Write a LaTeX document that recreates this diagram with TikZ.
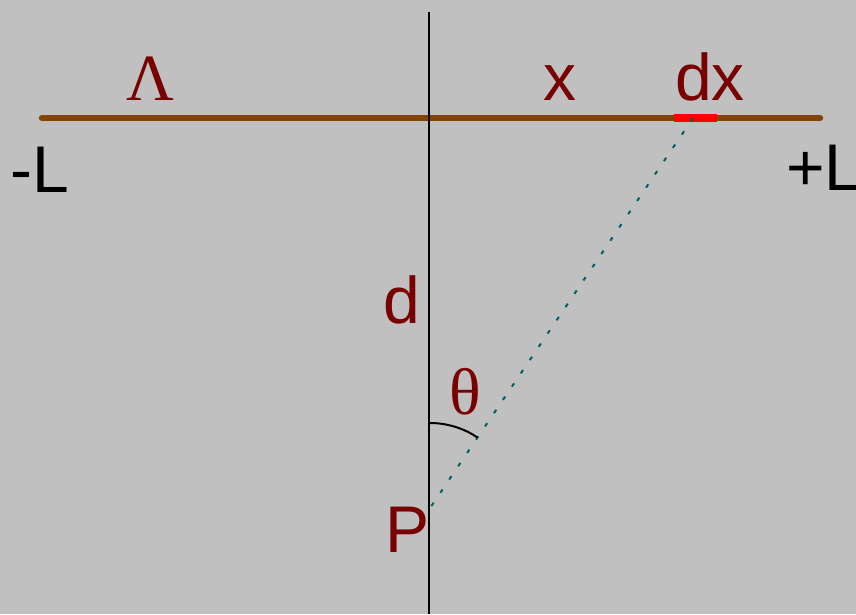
\documentclass[tikz,border=0pt]{standalone}
\usepackage{fontspec}
\usetikzlibrary{calc}
\setmainfont{Liberation Sans}
\newfontfamily\serifface{Liberation Serif}
\definecolor{bggray}{RGB}{192,192,192}
\definecolor{rodbrown}{RGB}{132,68,0}
\definecolor{lblred}{RGB}{120,0,0}
\definecolor{teal2}{RGB}{0,96,96}
\begin{document}
\begin{tikzpicture}[x=1pt,y=-1pt,
  lbl/.style={anchor=base,inner sep=0pt,text=lblred,font=\fontsize{66}{66}\selectfont},
  lblk/.style={anchor=base,inner sep=0pt,text=black,font=\fontsize{66}{66}\selectfont},
  glbl/.style={anchor=base,inner sep=0pt,text=lblred,font=\serifface\fontsize{66}{66}\selectfont}]
\fill[bggray] (0,0) rectangle (856,614);
\useasboundingbox (0,0) rectangle (856,614);
\coordinate (top) at (429,12);
\coordinate (bot) at (429,614);
\coordinate (rl) at (42,118);
\coordinate (rr) at (820,118);
\coordinate (dxl) at (674,118);
\coordinate (dxr) at (717,118);
\coordinate (Q) at (693,118);
\coordinate (P) at (430,508);
\draw[line width=6.5,rodbrown,line cap=round] (rl) -- (rr);
\draw[line width=8,red] (dxl) -- (dxr);
\draw[line width=2.4,black] (top) -- (bot);
\draw[teal2,line width=2,dash pattern=on 4 off 12] (Q) -- (P);
\draw[black,line width=2] ($(P)+(-90:85)$) arc[start angle=-90,end angle=-56,radius=85];
\node[glbl] (lam) at (150,100) {Λ};
\node[lbl] (xl) at (560,100) {x};
\node[lbl] (dxlab) at (710,100) {dx};
\node[lblk] (ml) at (40,192) {-L};
\node[lblk] (pl) at (824,190) {+L};
\node[lbl] (dl) at (402,323) {d};
\node[glbl] (th) at (465,414) {θ};
\node[lbl] (pp) at (408,552) {P};
\end{tikzpicture}
\end{document}
